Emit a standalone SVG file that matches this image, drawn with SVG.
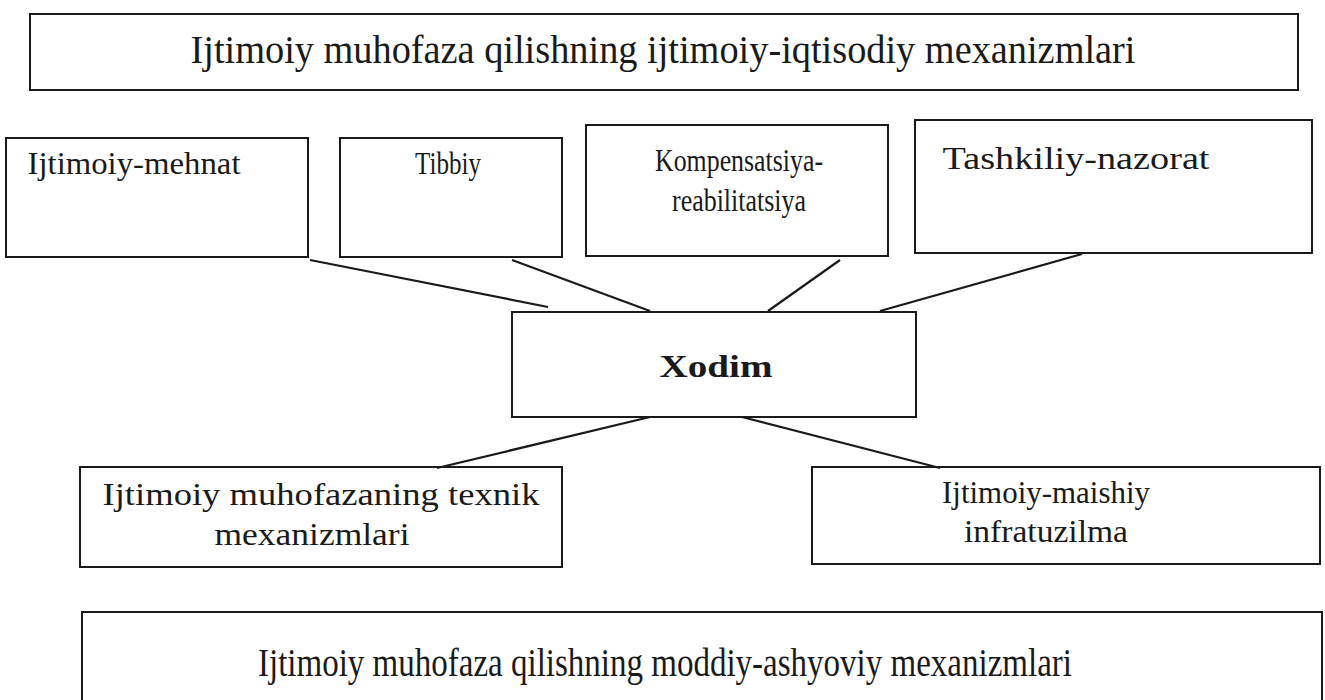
<svg xmlns="http://www.w3.org/2000/svg" width="1325" height="700" viewBox="0 0 1325 700">
<style>
.box{fill:#fff;stroke:#1a1a1a;stroke-width:2}
.t{font-family:"Liberation Serif","Times New Roman",serif;fill:#1a1a1a;text-anchor:middle}
.big{font-size:39px}
.n{font-size:31px}
.m{font-size:32px}
.b{font-weight:bold}
.c{stroke:#1a1a1a;stroke-width:2.2;fill:none}
</style>
<rect width="1325" height="700" fill="#fff"/>
<g id="top">
<rect class="box" x="30" y="14" width="1268" height="76"/>
<text class="t big" x="663" y="63" textLength="945" lengthAdjust="spacingAndGlyphs">Ijtimoiy muhofaza qilishning ijtimoiy-iqtisodiy mexanizmlari</text>
</g>
<g id="mehnat">
<rect class="box" x="6" y="138" width="302" height="119"/>
<text class="t n" x="134" y="174" textLength="213" lengthAdjust="spacingAndGlyphs">Ijtimoiy-mehnat</text>
</g>
<g id="tibbiy">
<rect class="box" x="340" y="138" width="222" height="119"/>
<text class="t n" x="448" y="174" textLength="66" lengthAdjust="spacingAndGlyphs">Tibbiy</text>
</g>
<g id="kompensatsiya">
<rect class="box" x="586" y="125" width="302" height="131"/>
<text class="t n" x="739" y="171" textLength="168" lengthAdjust="spacingAndGlyphs">Kompensatsiya-</text>
<text class="t n" x="739" y="211" textLength="134" lengthAdjust="spacingAndGlyphs">reabilitatsiya</text>
</g>
<g id="tashkiliy">
<rect class="box" x="915" y="120" width="397" height="133"/>
<text class="t n" x="1076" y="169" textLength="267" lengthAdjust="spacingAndGlyphs">Tashkiliy-nazorat</text>
</g>
<g id="xodim">
<rect class="box" x="512" y="312" width="404" height="105"/>
<text class="t m b" x="716" y="377" textLength="113" lengthAdjust="spacingAndGlyphs">Xodim</text>
</g>
<g id="texnik">
<rect class="box" x="80" y="467" width="482" height="100"/>
<text class="t m" x="321" y="505" textLength="437" lengthAdjust="spacingAndGlyphs">Ijtimoiy muhofazaning texnik</text>
<text class="t m" x="312" y="545" textLength="195" lengthAdjust="spacingAndGlyphs">mexanizmlari</text>
</g>
<g id="maishiy">
<rect class="box" x="812" y="467" width="508" height="97"/>
<text class="t m" x="1046" y="503" textLength="208" lengthAdjust="spacingAndGlyphs">Ijtimoiy-maishiy</text>
<text class="t m" x="1046" y="542" textLength="164" lengthAdjust="spacingAndGlyphs">infratuzilma</text>
</g>
<g id="bottom">
<rect class="box" x="82" y="612" width="1240" height="100"/>
<text class="t big" x="665" y="676" textLength="814" lengthAdjust="spacingAndGlyphs">Ijtimoiy muhofaza qilishning moddiy-ashyoviy mexanizmlari</text>
</g>
<g id="connectors">
<line class="c" x1="310" y1="260" x2="548" y2="307"/>
<line class="c" x1="512" y1="260" x2="650" y2="311"/>
<line class="c" x1="840" y1="260" x2="768" y2="311"/>
<line class="c" x1="1082" y1="254" x2="880" y2="311"/>
<line class="c" x1="650" y1="417" x2="437" y2="468"/>
<line class="c" x1="742" y1="417" x2="940" y2="468"/>
</g>
</svg>
